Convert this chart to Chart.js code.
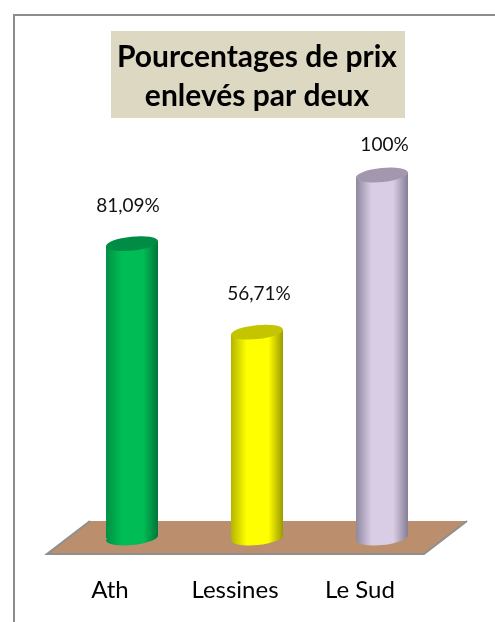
<!DOCTYPE html>
<html><head><meta charset="utf-8">
<style>html,body{margin:0;padding:0;background:#fff}canvas{display:block}</style>
<script src="https://cdn.jsdelivr.net/npm/chart.js@4"></script>
</head><body><canvas id="c" width="495" height="622"></canvas>
<script>
const titleLines = ["Pourcentages de prix", "enlevés par deux"];
const categories = ["Ath", "Lessines", "Le Sud"];
const values = [81.09, 56.71, 100];
const valueLabels = ["81,09%", "56,71%", "100%"];
const edgeColorsL = ["#008f45", "#b4b400", "#8f889e"];
const midColors = ["#00bc55", "#ffff00", "#d9cde6"];
const edgeColorsR = ["#00753a", "#9a9a00", "#857e94"];
const capColors = ["#008c44", "#c4c400", "#a297ac"];
const labelDx = [-4, 2, 2.5];
const labelDy = [38, 38, 30];
const FONT = "Lato, Carlito, sans-serif";

function grad(ctx, x, w, i) {
  const g = ctx.createLinearGradient(x - w / 2, 0, x + w / 2, 0);
  g.addColorStop(0, edgeColorsL[i]);
  g.addColorStop(0.3, midColors[i]);
  g.addColorStop(0.72, midColors[i]);
  g.addColorStop(1, edgeColorsR[i]);
  return g;
}
const TILT = -0.1, RY = 7;
const dyOf = w => Math.tan(-TILT) * w / 2;
function tiltedEllipse(c, x, y, w) {
  c.beginPath();
  c.ellipse(x, y, (w / 2) / Math.cos(TILT), RY, TILT, 0, Math.PI * 2);
}
const cyl = {
  id: "cyl",
  beforeDraw(chart) {
    const c = chart.ctx;
    c.save();
    c.strokeStyle = "#8c8c8c"; c.lineWidth = 2;
    c.beginPath(); c.moveTo(14, 622); c.lineTo(14, 15); c.lineTo(495, 15); c.stroke();
    c.fillStyle = "#ddd8c2";
    c.fillRect(111, 31, 294, 87);
    c.restore();
  },
  beforeDatasetsDraw(chart) {
    const c = chart.ctx, a = chart.chartArea, base = a.bottom;
    c.save();
    c.beginPath();
    c.moveTo(47, base + 16); c.lineTo(a.right - 20.5, base + 16);
    c.lineTo(a.right + 22.5, base - 17); c.lineTo(90, base - 17); c.closePath();
    c.fillStyle = "#bb8f6d"; c.fill();
    c.strokeStyle = "#8f8f8f"; c.lineWidth = 2; 
    c.beginPath(); c.moveTo(90, base - 17); c.lineTo(47, base + 16);
    c.lineTo(a.right - 20.5, base + 16); c.lineTo(a.right + 22.5, base - 17); c.stroke();
    const m = chart.getDatasetMeta(0);
    m.data.forEach((b, i) => {
      c.save();
      c.beginPath();
      c.rect(b.x - b.width / 2, b.base - 20, b.width, 40);
      c.clip();
      c.fillStyle = grad(c, b.x, b.width, i);
      tiltedEllipse(c, b.x, b.base, b.width);
      c.fill();
      c.restore();
    });
    c.restore();
    c.save();
    c.beginPath();
    m.data.forEach(b => {
      const dy = dyOf(b.width);
      c.moveTo(b.x - b.width / 2, b.y + dy);
      c.lineTo(b.x - b.width / 2, b.base + dy);
      c.lineTo(b.x + b.width / 2, b.base - dy);
      c.lineTo(b.x + b.width / 2, b.y - dy);
      c.closePath();
    });
    c.clip();
  },
  afterDatasetsDraw(chart) {
    const c = chart.ctx;
    c.restore();
    c.save();
    chart.getDatasetMeta(0).data.forEach((b, i) => {
      const dy = dyOf(b.width);
      c.fillStyle = grad(c, b.x, b.width, i);
      c.beginPath();
      c.moveTo(b.x, b.y);
      c.lineTo(b.x + b.width / 2, b.y - dy);
      c.lineTo(b.x + b.width / 2, b.y + dy);
      c.lineTo(b.x, b.y + dy);
      c.closePath();
      c.fill();
      c.fillStyle = capColors[i];
      tiltedEllipse(c, b.x, b.y, b.width);
      c.fill();
      c.fillStyle = "#111";
      c.font = "19px " + FONT;
      c.textAlign = "center"; c.textBaseline = "middle";
      c.fillText(valueLabels[i], b.x + labelDx[i], b.y - labelDy[i]);
    });
    c.restore();
  }
};
new Chart(document.getElementById("c"), {
  type: "bar",
  data: {
    labels: categories,
    datasets: [{
      data: values,
      borderWidth: 0,
      barPercentage: 1,
      categoryPercentage: 0.416,
      backgroundColor: (ctx) => {
        const s = ctx.chart.scales.x;
        if (!s || !isFinite(s.getPixelForValue(ctx.dataIndex))) return midColors[ctx.dataIndex];
        return grad(ctx.chart.ctx, s.getPixelForValue(ctx.dataIndex), 52, ctx.dataIndex);
      }
    }]
  },
  options: {
    responsive: false,
    animation: false,
    layout: { padding: { left: 69.5, right: 50.5, top: 38, bottom: 0 } },
    plugins: {
      legend: { display: false },
      tooltip: { enabled: false },
      title: {
        display: true,
        text: titleLines,
        color: "#000",
        font: { family: FONT, size: 30, weight: "bold", lineHeight: 1.3 },
        padding: { top: 0, bottom: 59 }
      }
    },
    scales: {
      x: {
        grid: { display: false },
        border: { display: false },
        ticks: { color: "#000", font: { family: FONT, size: 24 }, padding: 30, labelOffset: -22, maxRotation: 0 },
        afterFit(s) { s.height = 84; }
      },
      y: { display: false, min: 0, max: 100 }
    }
  },
  plugins: [cyl]
});
</script></body></html>
